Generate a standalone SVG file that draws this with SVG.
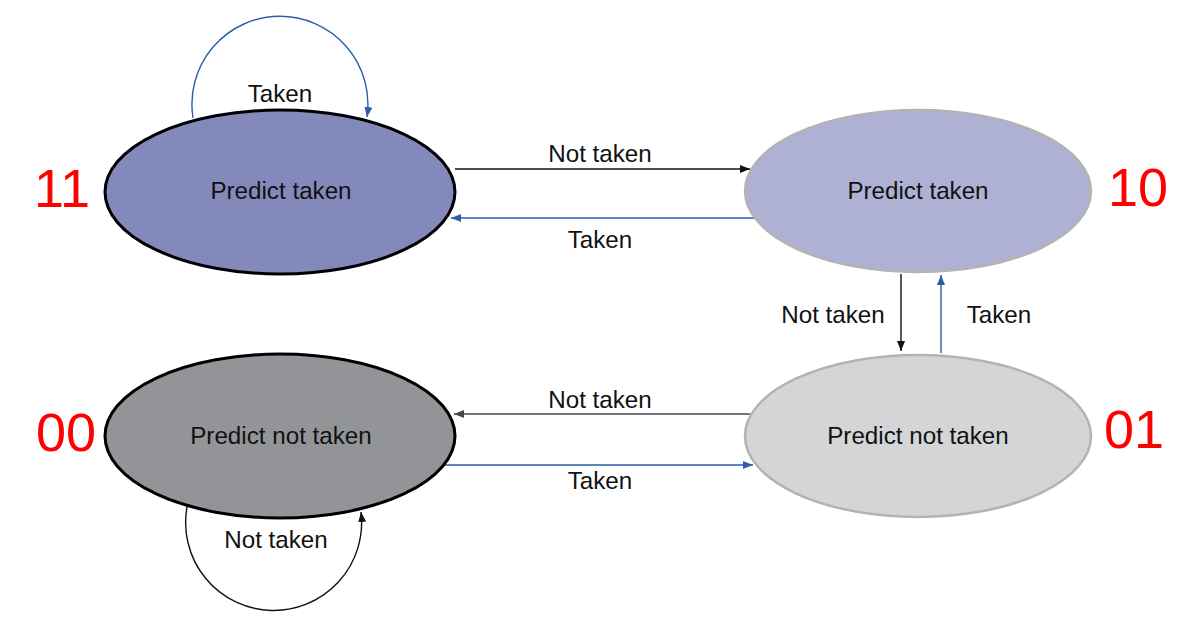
<svg xmlns="http://www.w3.org/2000/svg" width="1184" height="628" viewBox="0 0 1184 628">
<style>
.lbl{font-family:"Liberation Sans",Arial,sans-serif;font-size:24.2px;fill:#111;text-anchor:middle}
.num{font-family:"Liberation Sans",Arial,sans-serif;font-size:54px;fill:#ff0000}
.blk{stroke:#000;stroke-width:3}
.gry{stroke:#b3b3b3;stroke-width:2.5}
.e{fill:none;stroke-width:1.4}
.eb{stroke:#111;marker-end:url(#ab)}
.eu{stroke:#2b5fa6;marker-end:url(#au)}
.eg{stroke:#444;marker-end:url(#ag)}
</style>
<defs>
<marker id="ab" markerUnits="userSpaceOnUse" markerWidth="11" markerHeight="9" refX="10" refY="4" orient="auto"><path d="M0,0 L10,4 L0,8 z" fill="#111"/></marker>
<marker id="au" markerUnits="userSpaceOnUse" markerWidth="11" markerHeight="9" refX="10" refY="4" orient="auto"><path d="M0,0 L10,4 L0,8 z" fill="#2b5fa6"/></marker>
<marker id="ag" markerUnits="userSpaceOnUse" markerWidth="11" markerHeight="9" refX="10" refY="4" orient="auto"><path d="M0,0 L10,4 L0,8 z" fill="#444"/></marker>
</defs>
<rect width="1184" height="628" fill="#fff"/>
<g id="connectors">
<path class="e eu" d="M193,118 A88,88 0 1 1 367,117"/>
<path class="e eb" d="M187,507 A88,88 0 1 0 361,512"/>
<path class="e eb" d="M455,169 L750,169"/>
<path class="e eu" d="M755,218 L451,218"/>
<path class="e eb" d="M901,274 L901,351"/>
<path class="e eu" d="M941,353 L941,275"/>
<path class="e eg" d="M750,414 L454,414"/>
<path class="e eu" d="M445,465 L753,465"/>
<text class="lbl" x="280" y="102">Taken</text>
<text class="lbl" x="276" y="548">Not taken</text>
<text class="lbl" x="600" y="162">Not taken</text>
<text class="lbl" x="600" y="248">Taken</text>
<text class="lbl" x="833" y="323">Not taken</text>
<text class="lbl" x="999" y="323">Taken</text>
<text class="lbl" x="600" y="408">Not taken</text>
<text class="lbl" x="600" y="489">Taken</text>
</g>
<g id="s11">
<ellipse cx="280" cy="192" rx="175" ry="82" fill="#8489bc" class="blk"/>
<text class="lbl" x="281" y="199">Predict taken</text>
<text class="num" x="34" y="207">11</text>
</g>
<g id="s10">
<ellipse cx="918" cy="191" rx="173" ry="81" fill="#aeb1d4" class="gry"/>
<text class="lbl" x="918" y="199">Predict taken</text>
<text class="num" x="1108" y="206">10</text>
</g>
<g id="s00">
<ellipse cx="280" cy="436" rx="175" ry="82" fill="#939497" class="blk"/>
<text class="lbl" x="281" y="444">Predict not taken</text>
<text class="num" x="36" y="451">00</text>
</g>
<g id="s01">
<ellipse cx="918" cy="436" rx="173" ry="81" fill="#d4d5d7" class="gry"/>
<text class="lbl" x="918" y="444">Predict not taken</text>
<text class="num" x="1104" y="448">01</text>
</g>
</svg>
